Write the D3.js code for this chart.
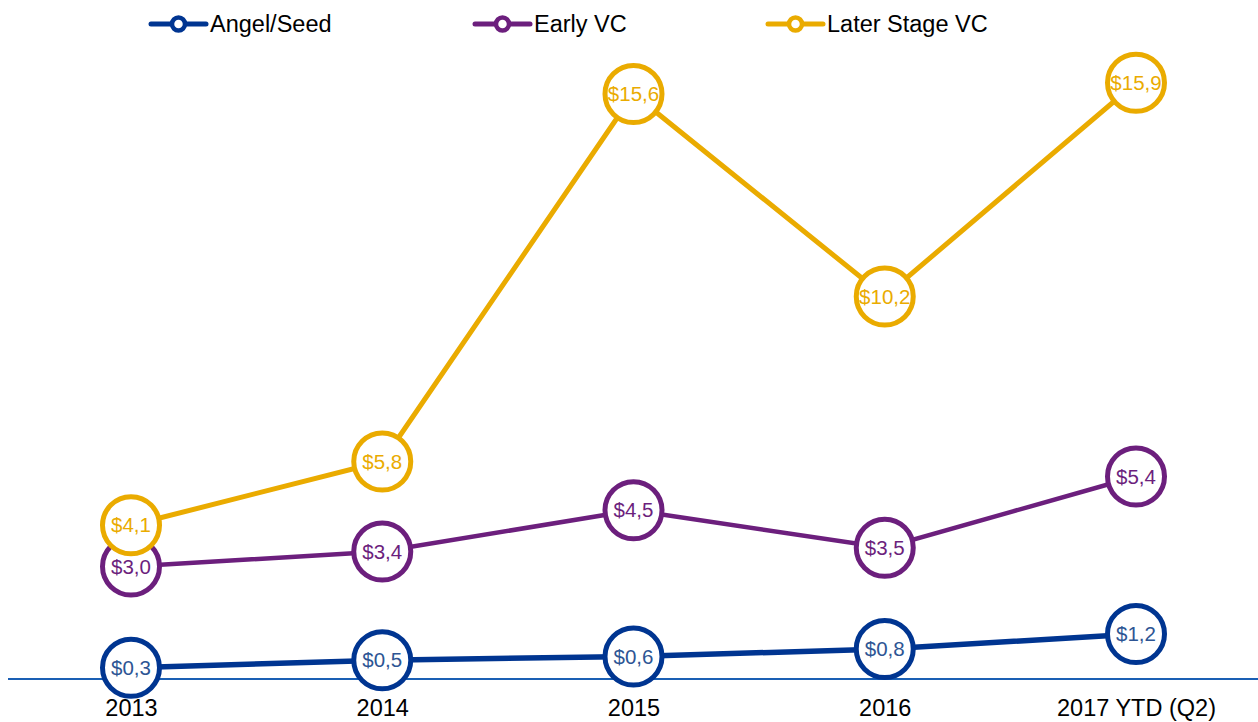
<!DOCTYPE html>
<html><head><meta charset="utf-8">
<script src="https://cdn.jsdelivr.net/npm/d3@7"></script>
<style>body{margin:0;background:#fff;}svg{display:block;font-family:"Liberation Sans",Arial,sans-serif;}</style>
</head><body>
<svg id="c" width="1258" height="722"></svg>
<script>
const categories = ["2013","2014","2015","2016","2017 YTD (Q2)"];
const angelSeed = [0.3,0.5,0.6,0.8,1.2];
const earlyVC = [3.0,3.4,4.5,3.5,5.4];
const laterVC = [4.1,5.8,15.6,10.2,15.9];
const seriesNames = ["Angel/Seed","Early VC","Later Stage VC"];
const seriesColors = ["#003591","#6c1f7d","#eaab00"];
const labelColors = ["#2d5594","#6c1f7d","#eaab00"];
const seriesWidths = [5.5,4.5,5];

const series = [angelSeed, earlyVC, laterVC].map((v,i)=>({name:seriesNames[i],values:v,color:seriesColors[i],label:labelColors[i],w:seriesWidths[i]}));

const svg = d3.select("#c");
const x = d3.scalePoint().domain(categories).range([131,1136]);
const y = d3.scaleLinear().domain([0,18]).range([679,4]);

// axis
const ax = svg.append("g").attr("transform","translate(0,679)")
  .call(d3.axisBottom(x).tickSize(0).tickPadding(20));
ax.select(".domain").remove();
ax.selectAll("text").attr("font-size",23.5).attr("fill","#000").attr("font-family","Liberation Sans, Arial, sans-serif");
svg.append("line").attr("x1",8).attr("x2",1258).attr("y1",679).attr("y2",679).attr("stroke","#1a5fb4").attr("stroke-width",2);

const line = d3.line().x((d,i)=>x(categories[i])).y(d=>y(d));
const fmt = v => "$" + v.toFixed(1).replace(".",",");

series.forEach(s=>{
  svg.append("path").attr("d",line(s.values)).attr("fill","none").attr("stroke",s.color).attr("stroke-width",s.w);
});
series.forEach(s=>{
  const g = svg.append("g");
  s.values.forEach((v,i)=>{
    g.append("circle").attr("cx",x(categories[i])).attr("cy",y(v)).attr("r",28.5)
      .attr("fill","#fff").attr("stroke",s.color).attr("stroke-width",5);
    g.append("text").attr("x",x(categories[i])).attr("y",y(v)).attr("dy","0.35em")
      .attr("text-anchor","middle").attr("font-size",20.5).attr("fill",s.label).text(fmt(v));
  });
});

// legend
const legX = [151,475,768];
series.forEach((s,i)=>{
  const g = svg.append("g").attr("transform",`translate(${legX[i]},24)`);
  g.append("line").attr("x1",0).attr("x2",55).attr("y1",0).attr("y2",0).attr("stroke",s.color).attr("stroke-width",5).attr("stroke-linecap","round");
  g.append("circle").attr("cx",27.5).attr("cy",0).attr("r",6.5).attr("fill","#fff").attr("stroke",s.color).attr("stroke-width",4.5);
  g.append("text").attr("x",59).attr("y",0).attr("dy","0.35em").attr("font-size",23.5).attr("fill","#000").text(s.name);
});
</script>
</body></html>
